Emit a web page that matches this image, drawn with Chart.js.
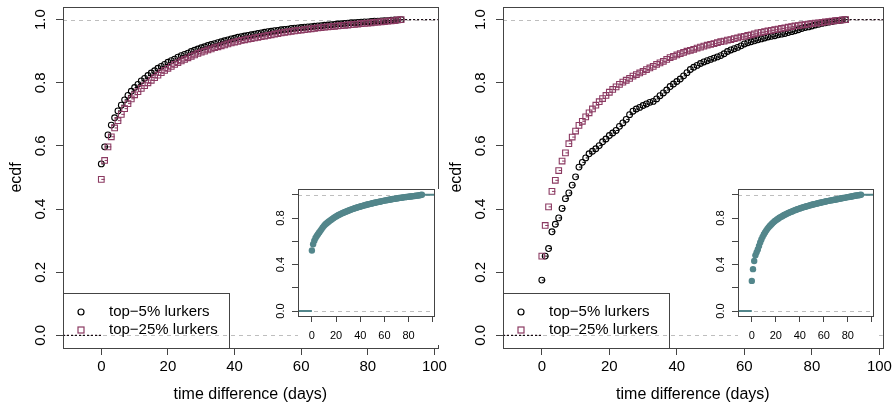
<!DOCTYPE html>
<html>
<head>
<meta charset="utf-8">
<script src="https://cdn.jsdelivr.net/npm/chart.js@4.4.0/dist/chart.umd.min.js"></script>
<style>
  body { margin: 0; background: #fff; }
  #wrap { position: relative; width: 895px; height: 405px; overflow: hidden; }
  canvas { position: absolute; }
</style>
</head>
<body>
<div id="wrap">
  <canvas id="mainL" width="450" height="405" style="left:0;top:0"></canvas>
  <canvas id="mainR" width="455" height="405" style="left:440px;top:0"></canvas>
  <canvas id="insL" width="190" height="165" style="left:255px;top:180px"></canvas>
  <canvas id="insR" width="190" height="165" style="left:695px;top:180px"></canvas>
</div>
<script>
const FONT = "'Liberation Sans', Arial, Helvetica, sans-serif";

// time difference in days
const days = [0,1,2,3,4,5,6,7,8,9,10,11,12,13,14,15,16,17,18,19,20,21,22,23,24,25,26,27,28,29,
  30,31,32,33,34,35,36,37,38,39,40,41,42,43,44,45,46,47,48,49,50,51,52,53,54,55,56,57,58,59,
  60,61,62,63,64,65,66,67,68,69,70,71,72,73,74,75,76,77,78,79,80,81,82,83,84,85,86,87,88,89,90,91];

// left panel
const leftTop5 = [
  .543,.597,.635,.666,.689,.711,.729,.746,.760,.773,
  .785,.795,.806,.814,.823,.831,.838,.846,.852,.858,
  .865,.870,.875,.881,.886,.890,.894,.899,.903,.907,
  .911,.914,.918,.921,.924,.927,.930,.933,.936,.939,
  .941,.944,.946,.948,.950,.952,.954,.956,.958,.960,
  .962,.963,.965,.966,.968,.969,.970,.972,.973,.974,
  .975,.976,.977,.978,.979,.980,.981,.982,.983,.984,
  .985,.986,.987,.988,.989,.990,.990,.991,.992,.993,
  .993,.994,.995,.995,.996,.997,.997,.998,.999,.999,
  1.0];
const leftTop25 = [
  .494,.554,.597,.629,.657,.680,.700,.718,.734,.749,
  .762,.772,.782,.791,.800,.808,.816,.824,.832,.839,
  .846,.852,.858,.864,.869,.874,.879,.884,.888,.893,
  .897,.900,.904,.907,.911,.914,.917,.920,.923,.926,
  .929,.931,.934,.936,.938,.940,.942,.944,.946,.948,
  .950,.952,.954,.956,.958,.960,.961,.963,.964,.966,
  .967,.968,.970,.971,.972,.974,.975,.976,.977,.978,
  .979,.980,.981,.982,.983,.984,.985,.986,.987,.988,
  .989,.990,.991,.992,.993,.994,.995,.996,.997,.999,
  1.0];

// right panel
const rightTop5 = [
  .175,.251,.275,.328,.352,.372,.402,.433,.451,.476,
  .502,.533,.548,.562,.575,.583,.591,.601,.613,.622,
  .633,.641,.649,.662,.673,.684,.699,.710,.717,.722,
  .728,.733,.738,.741,.749,.759,.768,.777,.788,.796,
  .804,.812,.822,.832,.842,.849,.855,.861,.866,.870,
  .874,.878,.882,.886,.892,.899,.904,.908,.912,.917,
  .923,.927,.930,.933,.936,.939,.942,.945,.947,.949,
  .952,.954,.956,.959,.962,.965,.968,.972,.975,.977,
  .980,.983,.985,.988,.990,.992,.994,.996,.997,.999,
  1.0];
const rightTop25 = [
  .251,.348,.407,.456,.491,.522,.552,.578,.607,.628,
  .647,.665,.678,.692,.705,.717,.729,.740,.750,.760,
  .770,.779,.787,.795,.802,.808,.814,.821,.826,.831,
  .836,.842,.847,.852,.858,.863,.868,.874,.880,.884,
  .888,.892,.896,.900,.903,.906,.910,.913,.916,.919,
  .922,.924,.927,.930,.932,.935,.937,.940,.942,.945,
  .947,.950,.952,.955,.958,.960,.962,.964,.966,.968,
  .970,.972,.974,.976,.978,.980,.981,.983,.984,.986,
  .987,.989,.990,.991,.993,.994,.995,.997,.998,.999,
  1.0];

// insets (all lurkers)
const insetLeft = [
  .521,.575,.605,.628,.645,.660,.675,.690,.705,.720,
  .733,.744,.754,.762,.770,.778,.786,.793,.800,.808,
  .814,.820,.826,.831,.836,.841,.846,.850,.855,.859,
  .863,.867,.871,.875,.879,.882,.886,.889,.893,.896,
  .899,.902,.905,.908,.911,.914,.917,.919,.922,.924,
  .927,.929,.932,.934,.937,.939,.941,.943,.946,.948,
  .950,.952,.954,.956,.958,.960,.962,.964,.965,.967,
  .969,.970,.972,.974,.975,.977,.978,.980,.981,.982,
  .984,.985,.986,.988,.989,.990,.992,.993,.994,.996,
  .998,1.0];
const insetRight = [
  .259,.360,.430,.479,.505,.530,.560,.590,.615,.638,
  .658,.676,.692,.707,.720,.732,.743,.753,.763,.772,
  .780,.788,.795,.802,.808,.814,.820,.826,.831,.836,
  .841,.846,.851,.855,.859,.864,.868,.872,.876,.879,
  .883,.886,.890,.893,.896,.899,.902,.905,.908,.911,
  .914,.916,.919,.922,.924,.927,.929,.932,.934,.937,
  .939,.941,.944,.946,.948,.950,.952,.954,.956,.958,
  .960,.962,.964,.966,.968,.970,.972,.974,.976,.978,
  .980,.982,.984,.986,.988,.990,.992,.994,.995,.997,
  .999,1.0];

const xTicks = [0, 20, 40, 60, 80, 100];
const xTickLabels = ['0', '20', '40', '60', '80', '100'];
const insetXTickLabels = ['0', '20', '40', '60', '80', ''];
const yTicks = [0, 0.2, 0.4, 0.6, 0.8, 1.0];
const insetYLabelled = [0, 0.4, 0.8];
const legendLabels = ['top\u22125% lurkers', 'top\u221225% lurkers'];

const PINK = '#8B3A62';
const TEAL = '#53868B';
const FRAME = '#444';

const toXY = (vals) => vals.map((v, i) => ({ x: days[i], y: v }));

const ecdfDecor = {
  id: 'ecdfDecor',
  beforeDraw(chart, args, o) {
    if (!o.whiteBg) return;
    const { ctx, chartArea: a } = chart;
    ctx.save();
    ctx.fillStyle = '#fff';
    ctx.fillRect(a.left, a.top, a.right - a.left + 6, chart.height - a.top);
    ctx.restore();
  },
  beforeDatasetsDraw(chart, args, o) {
    const { ctx, chartArea: a, scales: { y } } = chart;
    ctx.save();
    ctx.strokeStyle = '#bebebe';
    ctx.lineWidth = 1;
    ctx.setLineDash([4, 4]);
    [0, 1].forEach(v => {
      const py = Math.round(y.getPixelForValue(v)) + 0.5;
      ctx.beginPath();
      ctx.moveTo(a.left, py);
      ctx.lineTo(a.right, py);
      ctx.stroke();
    });
    chart.data.datasets.forEach((ds, i) => {
      const pts = chart.getDatasetMeta(i).data;
      if (!pts.length) return;
      ctx.strokeStyle = ds.borderColor;
      ctx.setLineDash([]);
      ctx.lineWidth = o.stepWidth;
      ctx.beginPath();
      for (let k = 0; k < pts.length - 1; k++) {
        ctx.moveTo(pts[k].x, pts[k].y);
        ctx.lineTo(pts[k + 1].x, pts[k].y);
      }
      ctx.stroke();
      ctx.setLineDash(o.tailDash);
      ctx.lineWidth = o.tailWidth;
      const y0 = y.getPixelForValue(0), y1 = y.getPixelForValue(1);
      ctx.beginPath();
      ctx.moveTo(a.left, y0); ctx.lineTo(pts[0].x, y0);
      ctx.moveTo(pts[pts.length - 1].x, y1); ctx.lineTo(a.right, y1);
      ctx.stroke();
    });
    ctx.restore();
  },
  afterDraw(chart, args, o) {
    const { ctx, chartArea: a, scales: { y } } = chart;
    ctx.save();
    ctx.strokeStyle = FRAME;
    ctx.lineWidth = 1;
    ctx.setLineDash([]);
    ctx.strokeRect(Math.round(a.left) + 0.5, Math.round(a.top) + 0.5,
      Math.round(a.right - a.left), Math.round(a.bottom - a.top));

    // rotated y tick labels
    ctx.fillStyle = '#000';
    ctx.font = o.tickFont;
    ctx.textAlign = 'center';
    ctx.textBaseline = 'middle';
    o.yLabels.forEach(v => {
      ctx.save();
      ctx.translate(o.yLabelX, y.getPixelForValue(v));
      ctx.rotate(-Math.PI / 2);
      ctx.fillText(v.toFixed(1), 0, 0);
      ctx.restore();
    });
    if (o.yTitle) {
      ctx.save();
      ctx.font = o.titleFont;
      ctx.translate(o.yTitleX, (a.top + a.bottom) / 2);
      ctx.rotate(-Math.PI / 2);
      ctx.fillText(o.yTitle, 0, 0);
      ctx.restore();
    }
    if (o.legend) {
      const L = o.legend;
      ctx.strokeRect(Math.round(a.left) + 0.5, L.top + 0.5, L.right - Math.round(a.left), Math.round(a.bottom) - L.top);
      ctx.font = `15px ${FONT}`;
      ctx.textAlign = 'left';
      legendLabels.forEach((txt, i) => {
        const cy = L.rows[i];
        ctx.lineWidth = 1.2;
        if (i === 0) {
          ctx.strokeStyle = '#000';
          ctx.beginPath();
          ctx.arc(L.symX, cy, 3, 0, Math.PI * 2);
          ctx.stroke();
        } else {
          ctx.strokeStyle = PINK;
          ctx.strokeRect(L.symX - 3, cy - 3, 6, 6);
        }
        ctx.fillStyle = '#000';
        ctx.fillText(txt, L.textX, cy);
      });
    }
    ctx.restore();
  }
};

function makeMain(id, top5, top25, rightPad) {
  return new Chart(document.getElementById(id), {
    type: 'scatter',
    data: {
      datasets: [
        { label: legendLabels[1], data: toXY(top25), order: 1,
          pointStyle: 'rect', pointRadius: 4, borderWidth: 1.1,
          borderColor: PINK, backgroundColor: 'rgba(0,0,0,0)' },
        { label: legendLabels[0], data: toXY(top5), order: 2,
          pointStyle: 'circle', pointRadius: 2.9, borderWidth: 1.1,
          borderColor: '#000', backgroundColor: 'rgba(0,0,0,0)' }
      ]
    },
    options: {
      responsive: false,
      animation: false,
      devicePixelRatio: 1,
      events: [],
      layout: { padding: { left: 0, right: rightPad, top: 7, bottom: 0 } },
      scales: {
        x: {
          type: 'linear', min: -11.5, max: 101,
          afterBuildTicks: s => { s.ticks = xTicks.map(v => ({ value: v })); },
          afterFit: s => { s.height = 57; },
          grid: { drawOnChartArea: false, drawTicks: true, tickLength: 7, color: FRAME },
          border: { display: false },
          ticks: { font: { size: 15, family: FONT }, color: '#000', padding: 3,
            maxRotation: 0, autoSkip: false, callback: (v, i) => xTickLabels[i] },
          title: { display: true, text: 'time difference (days)', color: '#000',
            font: { size: 16, family: FONT }, padding: { top: 0, bottom: 1 } }
        },
        y: {
          type: 'linear', min: -0.04, max: 1.04,
          afterBuildTicks: s => { s.ticks = yTicks.map(v => ({ value: v })); },
          afterFit: s => { s.width = 63; },
          grid: { drawOnChartArea: false, drawTicks: true, tickLength: 7, color: FRAME },
          border: { display: false },
          ticks: { display: false }
        }
      },
      plugins: {
        legend: { display: false },
        tooltip: { enabled: false },
        ecdfDecor: {
          whiteBg: false, stepWidth: 1, tailDash: [2, 2], tailWidth: 1,
          tickFont: `15px ${FONT}`, titleFont: `16px ${FONT}`,
          yLabels: yTicks, yLabelX: 41, yTitle: 'ecdf', yTitleX: 17,
          legend: { top: 293, right: 229, symX: 81, textX: 109, rows: [312, 330] }
        }
      }
    },
    plugins: [ecdfDecor]
  });
}

function makeInset(id, vals, rightPad) {
  return new Chart(document.getElementById(id), {
    type: 'scatter',
    data: {
      datasets: [
        { label: 'all', data: toXY(vals), pointStyle: 'circle', pointRadius: 3.2,
          borderWidth: 0, borderColor: TEAL, backgroundColor: TEAL }
      ]
    },
    options: {
      responsive: false,
      animation: false,
      devicePixelRatio: 1,
      events: [],
      layout: { padding: { left: 0, right: rightPad, top: 9, bottom: 0 } },
      scales: {
        x: {
          type: 'linear', min: -11.5, max: 101,
          afterBuildTicks: s => { s.ticks = xTicks.map(v => ({ value: v })); },
          afterFit: s => { s.height = 29; },
          grid: { drawOnChartArea: false, drawTicks: true, tickLength: 6, color: FRAME },
          border: { display: false },
          ticks: { font: { size: 11, family: FONT }, color: '#000', padding: 7,
            maxRotation: 0, autoSkip: false, callback: (v, i) => insetXTickLabels[i] }
        },
        y: {
          type: 'linear', min: -0.043, max: 1.05,
          afterBuildTicks: s => { s.ticks = yTicks.map(v => ({ value: v })); },
          afterFit: s => { s.width = 43; },
          grid: { drawOnChartArea: false, drawTicks: true, tickLength: 6, color: FRAME },
          border: { display: false },
          ticks: { display: false }
        }
      },
      plugins: {
        legend: { display: false },
        tooltip: { enabled: false },
        ecdfDecor: {
          whiteBg: true, stepWidth: 1.5, tailDash: [], tailWidth: 2,
          tickFont: `11px ${FONT}`, yLabels: insetYLabelled, yLabelX: 26
        }
      }
    },
    plugins: [ecdfDecor]
  });
}

makeMain('mainL', leftTop5, leftTop25, 7);
makeMain('mainR', rightTop5, rightTop25, 11);
makeInset('insL', insetLeft, 11);
makeInset('insR', insetRight, 12);
</script>
</body>
</html>
